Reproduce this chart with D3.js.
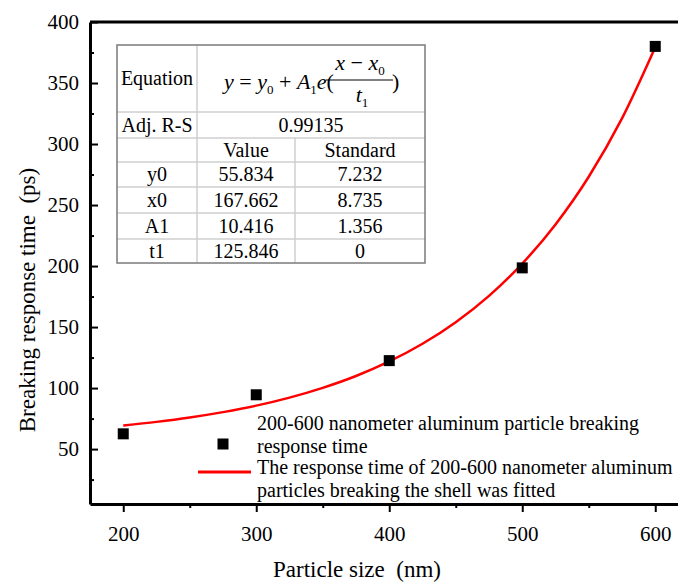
<!DOCTYPE html>
<html>
<head>
<meta charset="utf-8">
<script src="https://cdn.jsdelivr.net/npm/d3@7.9.0/dist/d3.min.js"></script>
<style>
  body { margin: 0; background: #fff; }
</style>
</head>
<body>
<div id="vis"></div>
<script>
// measured data (particle size nm -> breaking response time ps)
const sizes = [200, 300, 400, 500, 600];
const times = [62.5, 94.5, 122.5, 198.5, 380];

// fitted curve
const fitX = [200, 225, 250, 275, 300, 325, 350, 375, 400, 425, 450, 475, 500, 525, 550, 575, 600];
const fitY = [69.3, 72.3, 75.9, 80.3, 85.6, 92.2, 100.2, 109.9, 121.8, 136.3, 154.0, 175.6, 202.0, 234.1, 273.2, 321.0, 379.3];

const xTicks = [200, 300, 400, 500, 600];
const xMinor = [250, 350, 450, 550];
const yTicks = [50, 100, 150, 200, 250, 300, 350, 400];
const yMinor = [25, 75, 125, 175, 225, 275, 325, 375];

// fit parameter table
const tableHead = ["", "Value", "Standard"];
const paramNames = ["y0", "x0", "A1", "t1"];
const paramValues = ["55.834", "167.662", "10.416", "125.846"];
const paramErrors = ["7.232", "8.735", "1.356", "0"];
const adjR2 = "0.99135";

const legendLabels = [
  ["200-600 nanometer aluminum particle breaking", "response time"],
  ["The response time of 200-600 nanometer aluminum", "particles breaking the shell was fitted"]
];

const width = 678;
const height = 583;
const serif = "Liberation Serif";

const xScale = d3.scaleLinear().domain([175, 625]).range([90, 688.5]);
const yScale = d3.scaleLinear().domain([5, 400]).range([504, 22]);

const svg = d3.select("#vis").append("svg")
  .attr("width", width)
  .attr("height", height)
  .attr("font-family", serif);

// top frame line
svg.append("line")
  .attr("x1", xScale.range()[0]).attr("x2", xScale.range()[1])
  .attr("y1", yScale(400)).attr("y2", yScale(400))
  .attr("stroke", "#000").attr("stroke-width", 3);

// x axis
const gx = svg.append("g")
  .attr("transform", `translate(0,${yScale.range()[0]})`)
  .call(d3.axisBottom(xScale).tickValues(xTicks).tickSize(8).tickSizeOuter(0).tickPadding(9));
gx.append("g").call(d3.axisBottom(xScale).tickValues(xMinor).tickSize(4).tickFormat(""))
  .select(".domain").remove();

// y axis, ticks pointing inward
const gy = svg.append("g")
  .attr("transform", `translate(${xScale.range()[0]},0)`)
  .call(d3.axisLeft(yScale).tickValues(yTicks).tickSize(-8).tickSizeOuter(0).tickPadding(11));
gy.append("g").call(d3.axisLeft(yScale).tickValues(yMinor).tickSize(-4).tickFormat(""))
  .select(".domain").remove();

svg.selectAll(".domain").attr("stroke", "#000").attr("stroke-width", 3);
svg.selectAll(".tick line").attr("stroke", "#000").attr("stroke-width", 2);
svg.selectAll(".tick text")
  .attr("font-size", 21)
  .attr("fill", "#000");
gx.selectAll(".tick text").attr("dy", "0.95em");

// axis titles
svg.append("text")
  .attr("x", 357).attr("y", 577)
  .attr("text-anchor", "middle")
  .attr("font-size", 23)
  .text("Particle size\u2002(nm)");

svg.append("text")
  .attr("transform", "translate(35,300) rotate(-90)")
  .attr("text-anchor", "middle")
  .attr("font-size", 23)
  .text("Breaking response time\u2002(ps)");

// fit curve
const line = d3.line()
  .x((d, i) => xScale(fitX[i]))
  .y((d) => yScale(d))
  .curve(d3.curveMonotoneX);

svg.append("path")
  .attr("d", line(fitY))
  .attr("fill", "none")
  .attr("stroke", "#ff0000")
  .attr("stroke-width", 2.5);

// data points
const sq = 11;
svg.append("g")
  .selectAll("rect")
  .data(times)
  .enter()
  .append("rect")
  .attr("x", (d, i) => xScale(sizes[i]) - sq / 2)
  .attr("y", (d) => yScale(d) - sq / 2)
  .attr("width", sq)
  .attr("height", sq)
  .attr("fill", "#000");

// legend
const leg = svg.append("g").attr("font-size", 20);
leg.append("rect")
  .attr("x", 223 - sq / 2).attr("y", 444 - sq / 2)
  .attr("width", sq).attr("height", sq).attr("fill", "#000");
leg.append("line")
  .attr("x1", 198).attr("x2", 251).attr("y1", 472).attr("y2", 472)
  .attr("stroke", "#ff0000").attr("stroke-width", 3);
const legBase = [430, 474];
legendLabels.forEach((lines, k) => {
  lines.forEach((t, j) => {
    leg.append("text")
      .attr("x", 257)
      .attr("y", legBase[k] + j * 22.5)
      .text(t);
  });
});

// parameter table
const colX = [117, 197, 295, 425];
const rowY = [45, 112, 138, 162, 187, 213, 239, 263];
const tbl = svg.append("g").attr("font-size", 20).attr("text-anchor", "middle");
tbl.append("rect")
  .attr("x", colX[0]).attr("y", rowY[0])
  .attr("width", colX[3] - colX[0]).attr("height", rowY[7] - rowY[0])
  .attr("fill", "#fff");

// inner grid lines
const inner = tbl.append("g").attr("stroke", "#cfcfcf").attr("stroke-width", 1.5);
rowY.slice(1, 7).forEach((y) => {
  inner.append("line").attr("x1", colX[0]).attr("x2", colX[3]).attr("y1", y).attr("y2", y);
});
inner.append("line").attr("x1", colX[1]).attr("x2", colX[1]).attr("y1", rowY[0]).attr("y2", rowY[7]);
inner.append("line").attr("x1", colX[2]).attr("x2", colX[2]).attr("y1", rowY[2]).attr("y2", rowY[7]);

tbl.append("rect")
  .attr("x", colX[0]).attr("y", rowY[0])
  .attr("width", colX[3] - colX[0]).attr("height", rowY[7] - rowY[0])
  .attr("fill", "none").attr("stroke", "#7a7a7a").attr("stroke-width", 1.5);

const cx = (c) => (colX[c] + colX[c + 1]) / 2;
const cy = (r) => (rowY[r] + rowY[r + 1]) / 2 + 6.5;

tbl.append("text").attr("x", cx(0)).attr("y", 85).text("Equation");
tbl.append("text").attr("x", cx(0)).attr("y", cy(1)).text("Adj. R-S");
tbl.append("text").attr("x", (colX[1] + colX[3]) / 2).attr("y", cy(1)).text(adjR2);
tableHead.forEach((h, c) => {
  tbl.append("text").attr("x", cx(c)).attr("y", cy(2)).text(h);
});
paramNames.forEach((p, i) => {
  tbl.append("text").attr("x", cx(0)).attr("y", cy(3 + i)).text(p);
  tbl.append("text").attr("x", cx(1)).attr("y", cy(3 + i)).text(paramValues[i]);
  tbl.append("text").attr("x", cx(2)).attr("y", cy(3 + i)).text(paramErrors[i]);
});

// equation y = y0 + A1 e((x - x0)/t1)
const eq = svg.append("g").attr("font-size", 22).attr("font-style", "italic");
const main = eq.append("text").attr("x", 224).attr("y", 89);
main.append("tspan").text("y");
main.append("tspan").attr("font-style", "normal").text(" = ");
main.append("tspan").text("y");
main.append("tspan").attr("font-style", "normal").attr("font-size", 13).attr("dy", 5).text("0");
main.append("tspan").attr("font-style", "normal").attr("dy", -5).text(" + ");
main.append("tspan").text("A");
main.append("tspan").attr("font-style", "normal").attr("font-size", 13).attr("dy", 5).text("1");
main.append("tspan").attr("dy", -5).text("e");
main.append("tspan").attr("font-style", "normal").text("(");

const num = eq.append("text").attr("x", 360).attr("y", 70).attr("text-anchor", "middle");
num.append("tspan").text("x");
num.append("tspan").attr("font-style", "normal").text(" \u2212 ");
num.append("tspan").text("x");
num.append("tspan").attr("font-style", "normal").attr("font-size", 13).attr("dy", 5).text("0");

eq.append("line")
  .attr("x1", 326).attr("x2", 393).attr("y1", 80).attr("y2", 80)
  .attr("stroke", "#000").attr("stroke-width", 1);

const den = eq.append("text").attr("x", 362).attr("y", 102).attr("text-anchor", "middle");
den.append("tspan").text("t");
den.append("tspan").attr("font-style", "normal").attr("font-size", 13).attr("dy", 5).text("1");

eq.append("text").attr("x", 392).attr("y", 89).attr("font-style", "normal").text(")");

// force the serif face on every label, axis groups included
svg.selectAll("g").attr("font-family", null);
svg.selectAll("text").attr("font-family", serif);
</script>
</body>
</html>
